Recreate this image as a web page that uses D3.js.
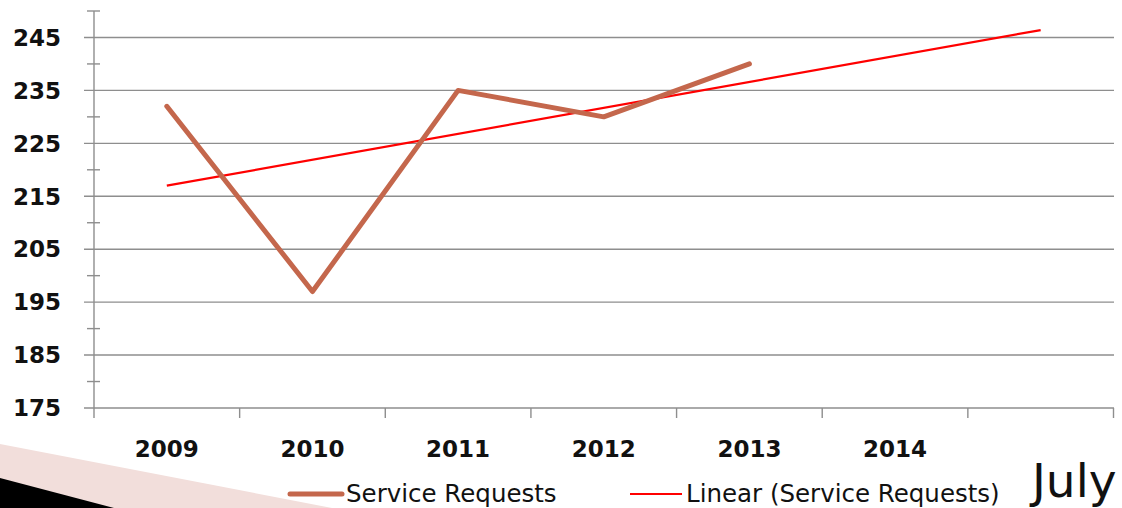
<!doctype html>
<html lang="en">
<head>
    <meta charset="utf-8">
    <title>Service Requests - July</title>
    <script src="https://d3js.org/d3.v7.min.js"></script>
    <style>
        body { margin: 0; padding: 0; background: #ffffff; }
        svg { display: block; font-family: 'DejaVu Sans', sans-serif; }
        .tick-label { font-weight: bold; font-size: 23px; fill: #111; }
        .legend-label { font-size: 24.5px; fill: #111; }
    </style>
</head>
<body>
    <div class="home"></div>
    <script>
        // data
        const years = ["2009", "2010", "2011", "2012", "2013", "2014", "2015"];
        const yearLabels = ["2009", "2010", "2011", "2012", "2013", "2014", ""];
        const requests = [232, 197, 235, 230, 240];
        // linear trend, first and last point (forecast to the 7th slot)
        const trendYears = ["2009", "2015"];
        const trendValues = [217, 246.4];
        const majorTicks = [175, 185, 195, 205, 215, 225, 235, 245];
        const minorTicks = [180, 190, 200, 210, 220, 230, 240, 250];

        const width = 1122, height = 508;
        const svg = d3.select(".home").append("svg")
            .attr("width", width)
            .attr("height", height);

        // slide decoration, bottom left
        svg.append("polygon")
            .attr("points", "0,444 332,508 0,508")
            .style("fill", "#f2dedb");
        svg.append("polygon")
            .attr("points", "0,478 114,508 0,508")
            .style("fill", "#000000");

        const x = d3.scaleBand().domain(years).range([94, 1113.5]);
        const y = d3.scaleLinear().domain([175, 250]).range([408, 11]);
        const cx = d => x(d) + x.bandwidth() / 2;

        const grey = "#8e8e8e";

        // gridlines + major ticks
        svg.append("g").selectAll("line")
            .data(majorTicks.slice(1))
            .join("line")
            .attr("x1", 84).attr("x2", 1114)
            .attr("y1", d => y(d)).attr("y2", d => y(d))
            .style("stroke", grey).style("stroke-width", 1.4);

        // minor ticks cross the axis
        svg.append("g").selectAll("line")
            .data(minorTicks)
            .join("line")
            .attr("x1", 87).attr("x2", 100)
            .attr("y1", d => y(d)).attr("y2", d => y(d))
            .style("stroke", grey).style("stroke-width", 1.4);

        // y axis line
        svg.append("line")
            .attr("x1", 94).attr("x2", 94)
            .attr("y1", y(250)).attr("y2", y(175))
            .style("stroke", grey).style("stroke-width", 1.4);

        // x axis line with left stub
        svg.append("line")
            .attr("x1", 84).attr("x2", 1114)
            .attr("y1", y(175)).attr("y2", y(175))
            .style("stroke", grey).style("stroke-width", 1.4);

        // x category boundary ticks
        const bounds = years.map(d => x(d)).concat([x.range()[1]]);
        svg.append("g").selectAll("line")
            .data(bounds)
            .join("line")
            .attr("x1", d => d).attr("x2", d => d)
            .attr("y1", y(175)).attr("y2", y(175) + 10)
            .style("stroke", grey).style("stroke-width", 1.4);

        // y tick labels
        svg.append("g").selectAll("text")
            .data(majorTicks)
            .join("text")
            .attr("class", "tick-label")
            .attr("x", 61)
            .attr("y", d => y(d))
            .attr("dy", "0.36em")
            .attr("text-anchor", "end")
            .text(d => d);

        // x tick labels
        svg.append("g").selectAll("text")
            .data(years)
            .join("text")
            .attr("class", "tick-label")
            .attr("x", d => cx(d))
            .attr("y", 457)
            .attr("text-anchor", "middle")
            .text((d, i) => yearLabels[i]);

        // trend line
        const line = d3.line().x(d => cx(d[0])).y(d => y(d[1]));
        svg.append("path")
            .datum(trendYears.map((d, i) => [d, trendValues[i]]))
            .attr("d", line)
            .style("fill", "none")
            .style("stroke", "#ff0000")
            .style("stroke-width", 2.2);

        // service requests
        svg.append("path")
            .datum(requests.map((v, i) => [years[i], v]))
            .attr("d", line)
            .style("fill", "none")
            .style("stroke", "#c4674c")
            .style("stroke-width", 5)
            .style("stroke-linejoin", "round")
            .style("stroke-linecap", "round");

        // legend
        const lg = svg.append("g");
        lg.append("line")
            .attr("x1", 290).attr("x2", 342).attr("y1", 494).attr("y2", 494)
            .style("stroke", "#c4674c").style("stroke-width", 5).style("stroke-linecap", "round");
        lg.append("text").attr("class", "legend-label")
            .attr("x", 346).attr("y", 502).text("Service Requests");
        lg.append("line")
            .attr("x1", 630).attr("x2", 682).attr("y1", 494).attr("y2", 494)
            .style("stroke", "#ff0000").style("stroke-width", 2);
        lg.append("text").attr("class", "legend-label")
            .attr("x", 686).attr("y", 502).text("Linear (Service Requests)");

        // slide footer text
        svg.append("text")
            .attr("x", 1032).attr("y", 497)
            .style("font-size", "47px")
            .style("fill", "#111")
            .text("July");
    </script>
</body>
</html>
